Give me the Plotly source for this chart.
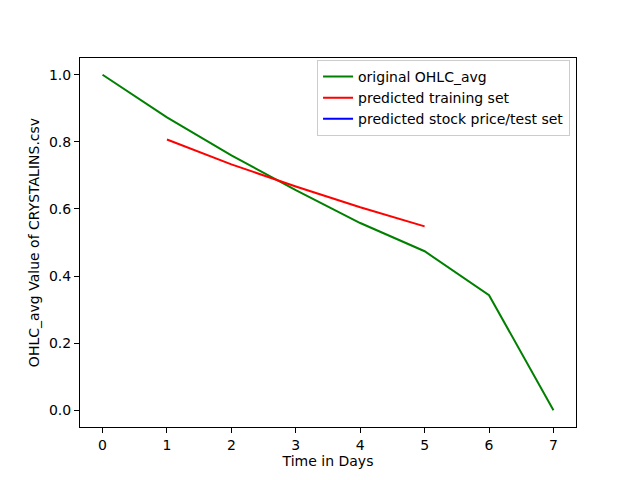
import plotly.graph_objects as go

days = [0, 1, 2, 3, 4, 5, 6, 7]
ohlc_avg = [1.0, 0.873, 0.760, 0.656, 0.558, 0.474, 0.343, 0.0]

train_days = [1, 2, 3, 4, 5]
train_pred = [0.807, 0.733, 0.667, 0.605, 0.548]

# the test set prediction is empty in the reference, it only shows up in the legend
test_days = []
test_pred = []

FONT = "DejaVu Sans"

fig = go.Figure()
fig.add_trace(go.Scatter(x=days, y=ohlc_avg, mode="lines", name="original OHLC_avg",
                         line=dict(color="#008000", width=2)))
fig.add_trace(go.Scatter(x=train_days, y=train_pred, mode="lines", name="predicted training set",
                         line=dict(color="#ff0000", width=2)))
fig.add_trace(go.Scatter(x=test_days or [None], y=test_pred or [None], mode="lines",
                         name="predicted stock price/test set",
                         line=dict(color="#0000ff", width=2), showlegend=True))

axis = dict(showline=True, linecolor="black", linewidth=1, mirror=True, ticks="outside",
            ticklen=5, tickcolor="black", showgrid=False, zeroline=False, automargin=False,
            tickfont=dict(size=14, color="black"), title_font=dict(size=14, color="black"))

# page body has an 8px margin, so the margins are shifted to keep matplotlib's axes box
fig.update_layout(
    width=640, height=480,
    plot_bgcolor="white", paper_bgcolor="white",
    font=dict(family=FONT, size=14, color="black"),
    margin=dict(l=72, r=72, t=50, b=61),
    xaxis=dict(axis, range=[-0.35, 7.35], dtick=1, title=dict(text="Time in Days", standoff=4)),
    yaxis=dict(axis, range=[-0.05, 1.05], dtick=0.2, tickformat=".1f",
               title=dict(text="OHLC_avg Value of CRYSTALINS.csv", standoff=6)),
    legend=dict(x=0.988, y=0.995, xanchor="right", yanchor="top", bgcolor="rgba(255,255,255,0.8)",
                bordercolor="#cccccc", borderwidth=1, font=dict(size=14), tracegroupgap=0),
    showlegend=True,
)

fig.write_html("out.html")
